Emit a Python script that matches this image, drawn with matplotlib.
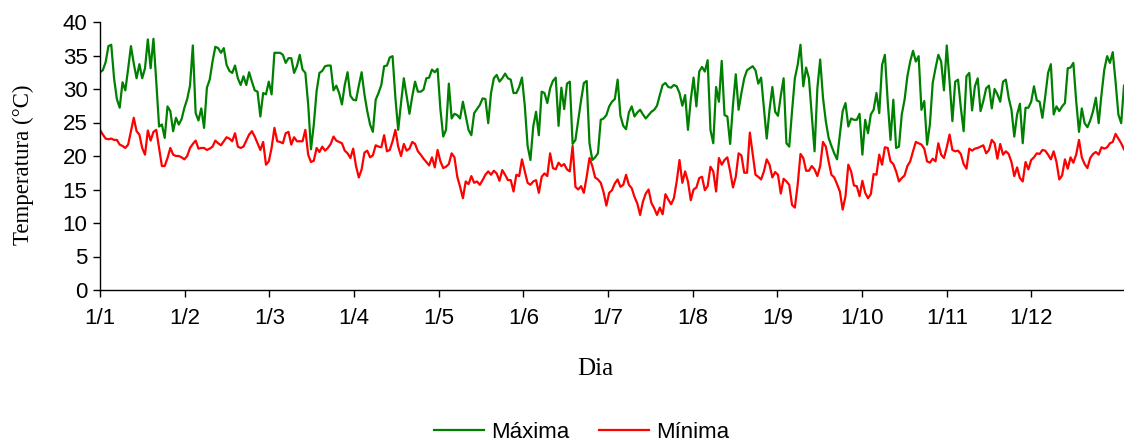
import numpy as np
import matplotlib
matplotlib.use("Agg")
import matplotlib.pyplot as plt

# Daily maximum and minimum temperatures (°C), one value per day of the year
tmax = [
    32.5, 32.8, 34.0, 36.4, 36.6, 31.6, 28.5, 27.2, 31.0, 29.8,
    33.0, 36.4, 33.8, 31.6, 33.7, 31.6, 33.1, 37.4, 33.1, 37.5,
    31.1, 24.4, 24.7, 22.7, 27.4, 26.7, 23.7, 25.7, 24.7, 25.5,
    27.2, 28.5, 30.5, 36.5, 26.4, 25.3, 27.1, 24.2, 30.2, 31.4,
    34.1, 36.3, 36.1, 35.4, 36.1, 33.6, 32.7, 32.4, 33.5, 31.6,
    30.6, 31.9, 30.6, 32.5, 31.1, 29.8, 29.6, 25.9, 29.4, 29.2,
    31.1, 29.2, 35.4, 35.4, 35.4, 35.1, 33.9, 34.6, 34.6, 32.4,
    33.4, 35.1, 32.9, 32.4, 27.7, 21.0, 24.7, 29.7, 32.4, 32.7,
    33.4, 33.5, 33.5, 29.8, 30.5, 29.4, 27.7, 30.6, 32.5, 29.0,
    28.4, 28.3, 30.5, 32.5, 29.2, 26.7, 24.7, 23.6, 28.4, 29.4,
    30.6, 33.4, 33.5, 34.7, 34.9, 28.7, 23.9, 27.9, 31.6, 28.9,
    26.3, 28.9, 31.1, 29.6, 29.6, 29.9, 31.6, 31.7, 32.9, 32.5,
    33.0, 27.0, 22.9, 23.9, 30.8, 25.6, 26.3, 26.1, 25.6, 28.1,
    26.0, 23.9, 23.1, 26.4, 27.0, 27.6, 28.6, 28.5, 24.9, 29.4,
    31.6, 32.1, 31.1, 31.6, 32.3, 31.6, 31.4, 29.4, 29.4, 30.3,
    31.7, 27.5, 21.5, 19.4, 24.4, 26.6, 23.1, 29.6, 29.4, 27.9,
    30.1, 31.2, 31.7, 24.5, 30.2, 27.0, 30.8, 31.1, 21.8, 22.4,
    25.4, 28.3, 30.9, 31.2, 21.9, 19.4, 19.8, 20.4, 25.4, 25.6,
    26.1, 27.4, 28.1, 28.5, 31.4, 26.0, 24.5, 24.0, 26.5, 27.4,
    25.9, 26.5, 26.9, 26.2, 25.6, 26.1, 26.6, 26.9, 27.5, 29.1,
    30.6, 30.9, 30.3, 30.2, 30.6, 30.4, 29.4, 27.5, 29.1, 23.9,
    28.4, 31.7, 27.4, 32.6, 33.3, 32.6, 34.3, 23.9, 21.9, 30.3,
    28.1, 34.2, 26.1, 25.9, 21.8, 27.6, 32.2, 26.9, 29.4, 31.6,
    32.8, 33.1, 33.4, 32.8, 30.8, 31.7, 27.1, 22.6, 26.9, 30.3,
    26.6, 26.0, 29.0, 31.6, 21.9, 21.4, 26.7, 31.6, 33.6, 36.6,
    30.4, 33.2, 31.6, 26.2, 20.7, 30.1, 34.4, 28.7, 25.2, 22.7,
    21.5, 20.4, 19.5, 23.2, 26.7, 27.9, 24.4, 25.6, 25.4, 25.4,
    26.3, 20.2, 25.4, 23.4, 26.2, 26.9, 29.4, 26.4, 33.6, 35.1,
    28.2, 22.4, 28.4, 21.2, 21.4, 26.2, 28.4, 31.9, 34.1, 35.7,
    34.1, 34.9, 26.9, 28.2, 21.7, 24.7, 30.9, 33.1, 35.1, 34.1,
    29.8, 36.5, 31.1, 25.2, 31.1, 31.4, 27.2, 23.7, 31.9, 32.4,
    26.8, 30.4, 31.6, 26.7, 28.2, 30.1, 30.5, 27.1, 30.0, 29.2,
    28.1, 31.1, 31.4, 28.7, 26.9, 22.9, 26.2, 27.8, 21.9, 27.2,
    27.2, 28.1, 30.4, 28.3, 28.1, 25.7, 28.9, 32.4, 33.7, 26.2,
    27.4, 26.7, 27.4, 27.9, 33.1, 33.2, 33.9, 28.2, 23.6, 27.1,
    24.9, 24.3, 25.3, 26.7, 28.7, 24.9, 29.2, 32.9, 34.9, 33.9,
    35.5, 31.1, 26.2, 24.9, 30.5,
]

tmin = [
    23.9, 23.2, 22.6, 22.5, 22.6, 22.4, 22.4, 21.7, 21.5, 21.2,
    21.7, 23.7, 25.7, 23.7, 23.2, 21.2, 20.2, 23.8, 22.3, 23.6,
    23.9, 21.2, 18.5, 18.5, 19.7, 21.2, 20.2, 20.0, 20.0, 19.8,
    19.5, 20.0, 21.2, 21.8, 22.3, 21.1, 21.2, 21.2, 20.9, 21.1,
    21.4, 22.3, 21.9, 21.6, 22.2, 22.8, 22.6, 22.2, 23.4, 21.4,
    21.2, 21.4, 22.3, 23.2, 23.7, 22.9, 21.9, 20.9, 22.1, 18.7,
    19.2, 21.2, 24.2, 22.2, 22.1, 21.9, 23.4, 23.6, 21.7, 22.8,
    22.2, 22.2, 22.2, 23.9, 20.2, 19.1, 19.3, 21.2, 20.6, 21.4,
    20.8, 21.2, 21.8, 22.9, 22.3, 22.1, 21.9, 20.8, 20.4, 19.7,
    21.1, 18.5, 16.8, 18.0, 20.5, 20.8, 19.8, 20.1, 21.6, 21.4,
    21.3, 23.1, 20.7, 20.9, 22.2, 23.9, 21.4, 20.0, 21.8, 20.8,
    21.1, 22.1, 21.8, 20.7, 20.2, 19.6, 19.1, 18.6, 19.8, 18.3,
    20.9, 19.2, 18.2, 18.4, 18.8, 20.4, 19.8, 16.9, 15.4, 13.7,
    16.2, 15.8, 17.0, 16.0, 16.2, 15.7, 16.4, 17.2, 17.7, 17.2,
    17.8, 17.4, 16.3, 17.9, 17.2, 16.4, 16.4, 14.7, 17.2, 17.0,
    19.5, 17.7, 16.0, 15.7, 16.2, 16.4, 14.5, 16.9, 17.4, 17.0,
    20.4, 18.2, 18.0, 19.0, 18.5, 18.8, 18.0, 17.7, 21.5, 15.4,
    15.0, 15.5, 14.5, 16.9, 19.7, 18.5, 16.8, 16.5, 16.0, 14.6,
    12.6, 14.5, 14.9, 15.9, 16.5, 15.4, 15.7, 17.2, 15.7, 15.2,
    13.9, 12.9, 11.2, 13.2, 14.4, 15.0, 13.0, 12.2, 11.2, 12.3,
    11.3, 14.3, 13.5, 12.8, 13.7, 16.2, 19.4, 16.0, 17.7, 16.2,
    13.4, 15.0, 15.3, 16.7, 16.9, 14.9, 15.5, 18.4, 17.7, 14.7,
    19.7, 18.7, 19.4, 19.8, 17.7, 15.3, 16.9, 20.4, 20.1, 17.5,
    17.5, 23.5, 20.4, 17.2, 16.9, 16.5, 17.7, 19.5, 18.7, 16.8,
    17.6, 17.2, 14.4, 16.6, 16.2, 15.7, 12.7, 12.3, 15.7, 20.3,
    19.7, 17.8, 17.8, 18.5, 18.0, 17.0, 18.5, 22.1, 21.4, 19.2,
    17.2, 16.8, 15.8, 14.7, 12.0, 14.0, 18.7, 17.7, 15.6, 15.5,
    14.0, 16.3, 14.5, 13.7, 14.3, 17.3, 17.2, 20.2, 18.7, 21.3,
    21.2, 19.2, 18.8, 17.7, 16.2, 16.7, 17.1, 18.5, 19.2, 20.7,
    22.1, 21.9, 21.7, 21.1, 19.2, 19.0, 19.6, 19.2, 21.9, 20.2,
    19.7, 21.3, 23.2, 20.9, 20.7, 20.8, 20.3, 18.8, 18.1, 21.1,
    20.8, 21.1, 21.2, 21.4, 21.6, 20.4, 20.9, 22.4, 21.9, 19.6,
    21.8, 20.2, 20.7, 20.3, 19.1, 17.0, 18.3, 16.7, 16.2, 19.1,
    18.0, 19.4, 19.8, 20.4, 20.3, 20.9, 20.8, 20.2, 19.5, 20.7,
    19.1, 16.5, 17.1, 19.5, 18.1, 19.8, 19.0, 20.2, 22.4, 19.8,
    18.8, 18.2, 19.7, 20.3, 20.6, 20.2, 21.3, 21.1, 21.3, 21.9,
    22.1, 23.3, 22.6, 21.9, 21.0,
]

month_labels = ["1/1", "1/2", "1/3", "1/4", "1/5", "1/6",
                "1/7", "1/8", "1/9", "1/10", "1/11", "1/12"]

days = np.arange(len(tmax))

fig = plt.figure(figsize=(11.24, 4.41), dpi=100)
ax = fig.add_axes([100 / 1124, 151 / 441, 1024 / 1124, 268 / 441])

ax.plot(days, tmax, color="#008000", lw=1.6, label="Máxima")
ax.plot(days, tmin, color="#ff0000", lw=1.6, label="Mínima")

ax.set_xlim(0, len(days) - 1)
ax.set_ylim(0, 40)
ax.set_yticks(np.arange(0, 41, 5))
ax.set_xticks(np.arange(12) * 30.1)
ax.set_xticklabels(month_labels)

for side in ("top", "right"):
    ax.spines[side].set_visible(False)
for side in ("left", "bottom"):
    ax.spines[side].set_color("black")
    ax.spines[side].set_linewidth(1.0)

ax.tick_params(axis="both", direction="out", length=5, width=1,
               labelsize=16, colors="black", pad=4)
ax.tick_params(axis="x", pad=8)
for lbl in ax.get_xticklabels() + ax.get_yticklabels():
    lbl.set_family("Liberation Sans")

ax.set_xlabel("Dia", family="Liberation Serif", fontsize=18)
ax.set_ylabel("Temperatura (°C)", family="Liberation Serif", fontsize=16.5)
ax.xaxis.set_label_coords(0.484, -0.252)
ax.yaxis.set_label_coords(-0.064, 0.466)

fig.legend(loc="center", bbox_to_anchor=(0.5174, 0.02), ncol=2,
           frameon=False, handlelength=2.25, handletextpad=0.3,
           columnspacing=1.35, borderpad=0.1,
           prop={"family": "Liberation Sans", "size": 16})

fig.savefig("out.png", dpi=100)
